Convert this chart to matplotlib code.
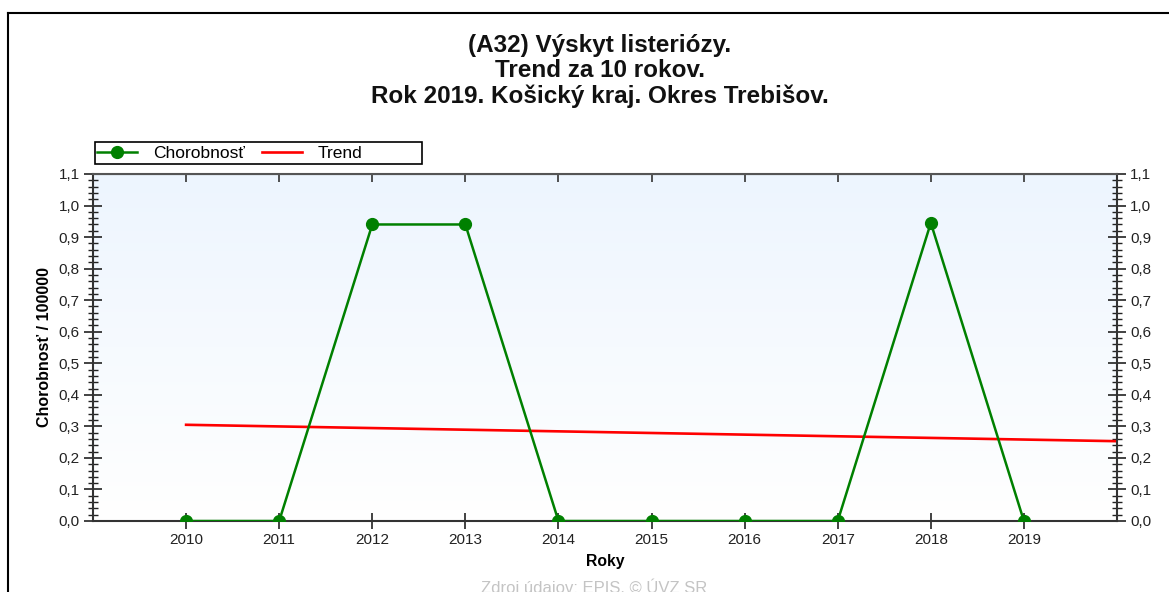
import numpy as np
import matplotlib
matplotlib.use('Agg')
import matplotlib.pyplot as plt
from matplotlib.ticker import MultipleLocator, FuncFormatter
from matplotlib.colors import LinearSegmentedColormap
from matplotlib.lines import Line2D
from matplotlib.patches import Rectangle

plt.rcParams['font.family'] = ['Liberation Sans', 'DejaVu Sans']

years = [2010, 2011, 2012, 2013, 2014, 2015, 2016, 2017, 2018, 2019]
morbidity = [0.0, 0.0, 0.94, 0.94, 0.0, 0.0, 0.0, 0.0, 0.945, 0.0]
trend_years = [2010, 2020]
trend_vals = [0.305, 0.253]

W, H = 1169, 592
fig = plt.figure(figsize=(W / 100, H / 100), dpi=100)
ax = fig.add_axes([93 / W, 1 - 521 / H, 1024 / W, 347 / H])

# background gradient
cmap = LinearSegmentedColormap.from_list('bg', ['#ffffff', '#edf5fe'])
ax.imshow(np.linspace(0, 1, 256).reshape(-1, 1), extent=[0, 1, 0, 1],
          transform=ax.transAxes, aspect='auto', cmap=cmap, origin='lower', zorder=0)

ax.plot(trend_years, trend_vals, color='#ff0000', lw=1.9, zorder=2, label='Trend')
ax.plot(years, morbidity, color='#008000', lw=1.8, marker='o', ms=8.5,
        zorder=3, label='Chorobnosť')

ax.set_xlim(2009, 2020)
ax.set_ylim(0, 1.1)

ax.set_xticks(years)
ax.yaxis.set_major_locator(MultipleLocator(0.1))
ax.yaxis.set_minor_locator(MultipleLocator(0.02))
ax.yaxis.set_major_formatter(FuncFormatter(lambda v, p: f"{v:.1f}".replace('.', ',')))

ax.tick_params(axis='x', which='major', direction='inout', length=12, width=1.2,
               colors='#222222', labelsize=11, pad=3, top=False)
ax.tick_params(axis='y', which='major', direction='inout', length=13, width=1.2,
               left=True, right=True, labelleft=True, labelright=True,
               colors='#222222', labelsize=11, pad=3)
ax.tick_params(axis='y', which='minor', direction='inout', length=7, width=1.0,
               left=True, right=True, color='#222222')

top = ax.secondary_xaxis('top')
top.set_xticks(years)
top.tick_params(direction='in', length=6, width=1.2, labeltop=False, color='#333333')
top.spines['top'].set_color('#555555')

for s in ['left', 'bottom', 'right']:
    ax.spines[s].set_color('#333333')
    ax.spines[s].set_linewidth(1.5)
ax.spines['top'].set_color('#555555')
ax.spines['top'].set_linewidth(1.5)

ax.set_xlabel('Roky', fontsize=11.3, fontweight='bold')
ax.xaxis.set_label_coords(0.5, -0.095)
ax.set_ylabel('Chorobnosť / 100000', fontsize=11.5, fontweight='bold')
ax.yaxis.set_label_coords(-0.040, 0.5)

fig.text(600 / W, 1 - 71 / H,
         '(A32) Výskyt listeriózy.\nTrend za 10 rokov.\nRok 2019. Košický kraj. Okres Trebišov.',
         ha='center', va='center', fontsize=17.5, fontweight='bold',
         linespacing=1.15, color='#111111')

fig.text(594 / W, 1 - 587 / H, 'Zdroj údajov: EPIS, © ÚVZ SR', ha='center', va='center',
         fontsize=12, color='#c4c4c4')

# legend
h, l = ax.get_legend_handles_labels()
fig.legend(h[::-1], l[::-1], loc='center left', bbox_to_anchor=(97 / W, 1 - 153 / H),
           frameon=False, ncol=2, fontsize=12.5, handlelength=2.3, handletextpad=0.92,
           columnspacing=1.0, borderpad=0, borderaxespad=0)
fig.patches.append(Rectangle((95 / W, 1 - 164 / H), 327 / W, 22 / H, fill=False,
                             edgecolor='black', lw=1.2, transform=fig.transFigure))

# outer frame
fig.lines.append(Line2D([8 / W, 1], [1 - 13 / H, 1 - 13 / H], color='black', lw=1.5,
                        transform=fig.transFigure))
fig.lines.append(Line2D([8 / W, 8 / W], [0, 1 - 13 / H], color='black', lw=1.5,
                        transform=fig.transFigure))

fig.savefig('out.png', dpi=100)
